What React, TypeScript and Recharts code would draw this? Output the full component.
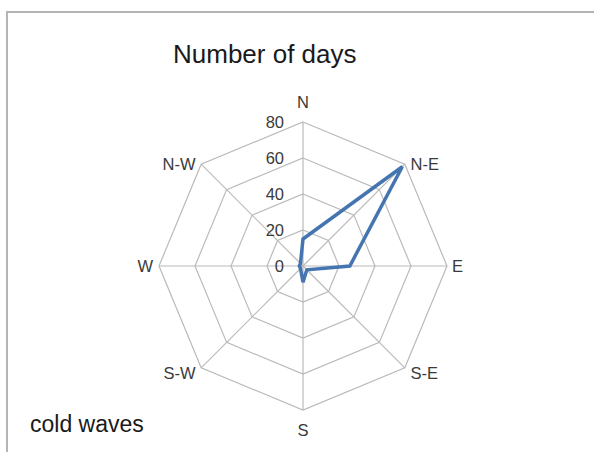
import React from "react";
import {
  RadarChart,
  Radar,
  PolarGrid,
  PolarAngleAxis,
  PolarRadiusAxis,
} from "recharts";

const directions = ["N", "N-E", "E", "S-E", "S", "S-W", "W", "N-W"];
const days = [15, 78, 26, 3, 9, 2, 2, 2];
const radiusTicks = [0, 20, 40, 60, 80];

const CX = 303;
const CY = 266;

const data = directions.map((dir, i) => ({ dir, days: days[i] }));

const labelFont = "'Liberation Sans', Arial, sans-serif";

function AngleTick(props: any) {
  const { x, y, payload, textAnchor } = props;
  let dx = 0;
  let dy = 6;
  const onAxisX = Math.abs(x - CX) < 2;
  if (onAxisX && y < CY) dy = -6;
  else if (onAxisX && y > CY) dy = 18;
  else if (y < CY - 2) dy = 11;
  else if (y > CY + 2) dy = 6;
  else dx = textAnchor === "start" ? -3 : 2;
  return (
    <text
      x={x + dx}
      y={y + dy}
      textAnchor={textAnchor}
      fontSize={16.5}
      fontFamily={labelFont}
      fill="#3a3a3a"
    >
      {payload.value}
    </text>
  );
}

function RadiusTick(props: any) {
  const { x, y, payload } = props;
  return (
    <text
      x={x - 19}
      y={y + 6}
      textAnchor="end"
      fontSize={16.5}
      fontFamily={labelFont}
      fill="#3a3a3a"
    >
      {payload.value}
    </text>
  );
}

export default function App() {
  return (
    <div
      style={{
        position: "absolute",
        left: 0,
        top: 0,
        width: 594,
        height: 452,
        background: "#fff",
        overflow: "hidden",
      }}
    >
      <div
        style={{
          position: "absolute",
          left: 6,
          top: 11,
          width: 620,
          height: 470,
          borderLeft: "2px solid #b4b4b4",
          borderTop: "2px solid #b4b4b4",
        }}
      />
      <div
        style={{
          position: "absolute",
          left: 173,
          top: 41,
          fontFamily: labelFont,
          fontSize: 26,
          lineHeight: "26px",
          color: "#1a1a1a",
          whiteSpace: "nowrap",
        }}
      >
        Number of days
      </div>
      <div
        style={{
          position: "absolute",
          left: 30,
          top: 413,
          fontFamily: labelFont,
          fontSize: 23,
          lineHeight: "23px",
          color: "#1a1a1a",
          whiteSpace: "nowrap",
        }}
      >
        cold waves
      </div>
      <div style={{ position: "absolute", left: 0, top: 0 }}>
        <RadarChart
          width={594}
          height={452}
          data={data}
          cx={CX}
          cy={CY}
          outerRadius={144}
          startAngle={90}
          endAngle={-270}
          margin={{ top: 0, right: 0, bottom: 0, left: 0 }}
        >
          <PolarGrid gridType="polygon" stroke="#bababa" strokeWidth={1.2} />
          <PolarAngleAxis
            dataKey="dir"
            tick={<AngleTick />}
            tickLine={false}
            axisLine={false}
          />
          <PolarRadiusAxis
            angle={90}
            domain={[0, 80]}
            ticks={radiusTicks as any}
            tickCount={5}
            tick={<RadiusTick />}
            axisLine={false}
            tickLine={false}
          />
          <Radar
            dataKey="days"
            stroke="#4575b0"
            strokeWidth={3.5}
            fill="none"
            fillOpacity={0}
            isAnimationActive={false}
            dot={false}
          />
        </RadarChart>
      </div>
    </div>
  );
}
